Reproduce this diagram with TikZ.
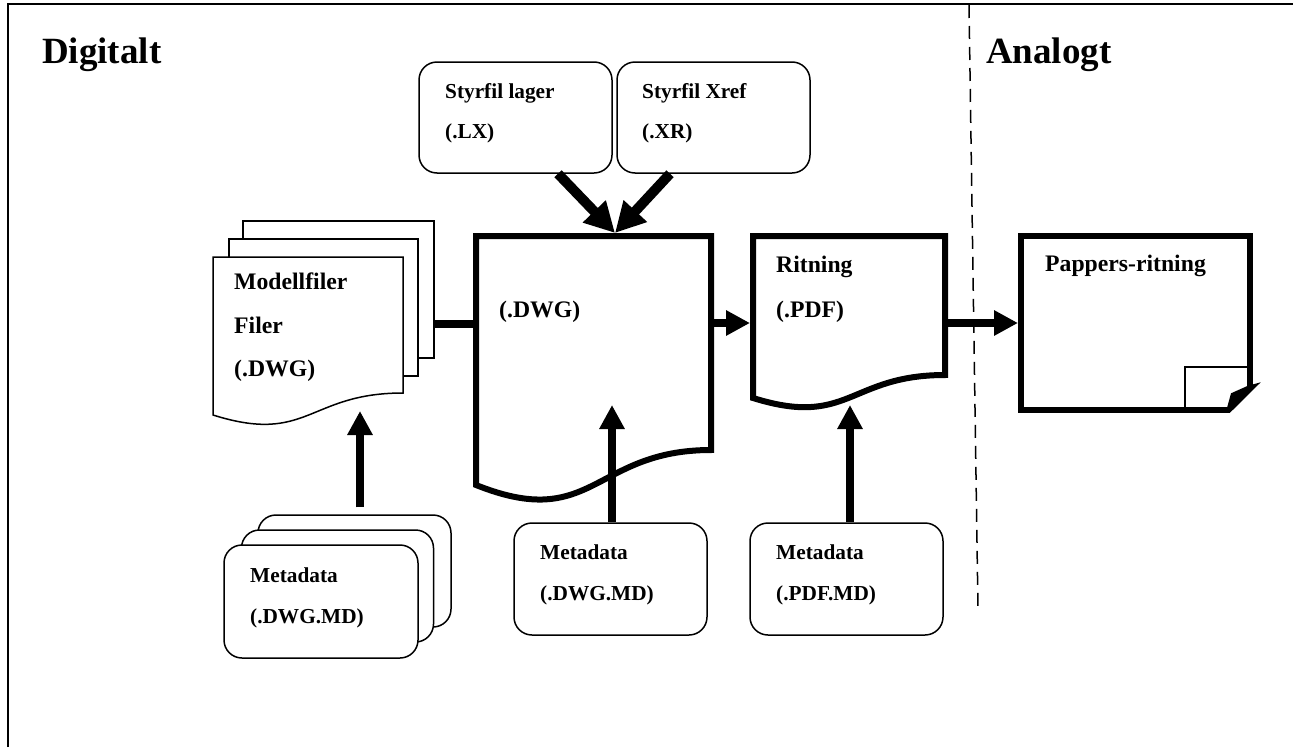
\documentclass[tikz,border=0pt]{standalone}
\usepackage{fontspec}
\setmainfont{Liberation Serif}
\usetikzlibrary{arrows.meta}
\begin{document}
\begin{tikzpicture}[x=1pt,y=-1pt,
  thinbox/.style={draw=black, line width=1.5pt, fill=white, rounded corners=18pt},
  thinline/.style={draw=black, line width=1.5pt},
  thickline/.style={draw=black, line width=6pt, line join=miter},
  area/.style={inner sep=0pt, draw=none, outer sep=3pt},
  lbl/.style={font=\fontsize{21.3}{25}\selectfont\bfseries, anchor=base west, inner sep=0pt},
  biglbl/.style={font=\fontsize{23.7}{28}\selectfont\bfseries, anchor=base west, inner sep=0pt},
  titlelbl/.style={font=\fontsize{37}{44}\selectfont\bfseries, anchor=base west, inner sep=0pt},
  arr/.style={line width=8pt, -{Triangle[length=24pt,width=24pt]}},
  bigarr/.style={line width=10pt, -{Triangle[length=30pt,width=30pt]}},
]
\useasboundingbox[fill=white] (0,0) rectangle (1293,747);

% frame
\draw[line width=1.6pt] (8,747) -- (8,4) -- (1293,4);
% divider
\draw[line width=1.5pt, dash pattern=on 13pt off 8pt] (969,5) -- (978,610);

% titles
\node[titlelbl] (digi) at (42,63) {Digitalt};
\node[titlelbl] (ana) at (986,63) {Analogt};

% Styrfil boxes
\node[thinbox, minimum width=193pt, minimum height=111pt] (lager) at (515.5,117.5) {};
\node[lbl] (lagerA) at (445,98) {Styrfil lager};
\node[lbl] (lagerB) at (445,138) {(.LX)};
\node[thinbox, minimum width=193pt, minimum height=111pt] (xref) at (713.5,117.5) {};
\node[lbl] (xrefA) at (642,98) {Styrfil Xref};
\node[lbl] (xrefB) at (642,138) {(.XR)};

% Modellfiler stack
\filldraw[thinline, fill=white] (243,221) rectangle (434,358);
\filldraw[thinline, fill=white] (229,239) rectangle (418,376);
\filldraw[thinline, fill=white] (213,257) -- (403,257) -- (403,393)
   .. controls (308,393) and (308,445) .. (213,415) -- cycle;
\node[area, minimum width=191pt, minimum height=137pt, outer sep=0pt] (model) at (338.5,289.5) {};
\node[biglbl] (modelA) at (234,289) {Modellfiler};
\node[biglbl] (modelB) at (234,333) {Filer};
\node[biglbl] (modelC) at (234,376) {(.DWG)};

% DWG document
\filldraw[thickline, fill=white] (476,236) -- (711,236) -- (711,450)
   .. controls (593.5,450) and (593.5,532) .. (476,485) -- cycle;
\node[area, minimum width=235pt, minimum height=214pt] (dwg) at (593.5,343) {};
\node[biglbl] (dwgA) at (499,317) {(.DWG)};

% Ritning document
\filldraw[thickline, fill=white] (753,236) -- (945,236) -- (945,375)
   .. controls (849,375) and (849,428) .. (753,398) -- cycle;
\node[area, minimum width=192pt, minimum height=139pt] (rit) at (849,305.5) {};
\node[biglbl] (ritA) at (776,272) {Ritning};
\node[biglbl] (ritB) at (776,317) {(.PDF)};

% Pappers-ritning
\fill[white] (1021,236) rectangle (1250,410);
\draw[thinline] (1185,410) -- (1185,367) -- (1248,367);
\draw[thickline] (1250,388) -- (1250,236) -- (1021,236) -- (1021,410) -- (1230,410);
\fill[black] (1226.7,409) -- (1231,393.3) -- (1248,385.7) -- (1260.7,382.3) -- (1230,412.7) -- cycle;
\node[area, minimum width=229pt, minimum height=174pt] (pap) at (1135.5,323) {};
\node[biglbl] (papA) at (1045,271) {Pappers-ritning};

% Metadata stack (left)
\node[thinbox, minimum width=193pt, minimum height=112pt] (meta3) at (354.5,571) {};
\node[thinbox, minimum width=192pt, minimum height=112pt] (meta2) at (337.5,586) {};
\node[thinbox, minimum width=194pt, minimum height=113pt] (meta1) at (321,601.5) {};
\node[lbl] (meta1A) at (250,582) {Metadata};
\node[lbl] (meta1B) at (250,623) {(.DWG.MD)};

% Metadata middle and right
\node[thinbox, minimum width=193pt, minimum height=112pt] (mmd) at (610.5,579) {};
\node[lbl] (mmdA) at (540,559) {Metadata};
\node[lbl] (mmdB) at (540,600) {(.DWG.MD)};
\node[thinbox, minimum width=193pt, minimum height=112pt] (pmd) at (846.5,579) {};
\node[lbl] (pmdA) at (776,559) {Metadata};
\node[lbl] (pmdB) at (776,600) {(.PDF.MD)};

% tips inside documents
\coordinate (mtip) at (360,411);
\coordinate (dtip) at (612,405);
\coordinate (ptip) at (850,405);

% connectors
\draw[bigarr] ([xshift=42.5pt]lager.south) -- ([xshift=21.5pt]dwg.north);
\draw[bigarr] ([xshift=-43.5pt]xref.south) -- ([xshift=21.5pt]dwg.north);
\draw[line width=8pt] (model.east |- 0,324) -- ([xshift=3pt]dwg.west |- 0,324);
\draw[arr] (dwg.east |- 0,323) -- (rit.west |- 0,323);
\draw[arr] (rit.east |- 0,323) -- (pap.west |- 0,323);
\draw[arr] ([yshift=7pt]meta3.north -| mtip) -- (mtip);
\draw[arr] (mmd.north -| dtip) -- (dtip);
\draw[arr] (pmd.north -| ptip) -- (ptip);
\end{tikzpicture}
\end{document}
